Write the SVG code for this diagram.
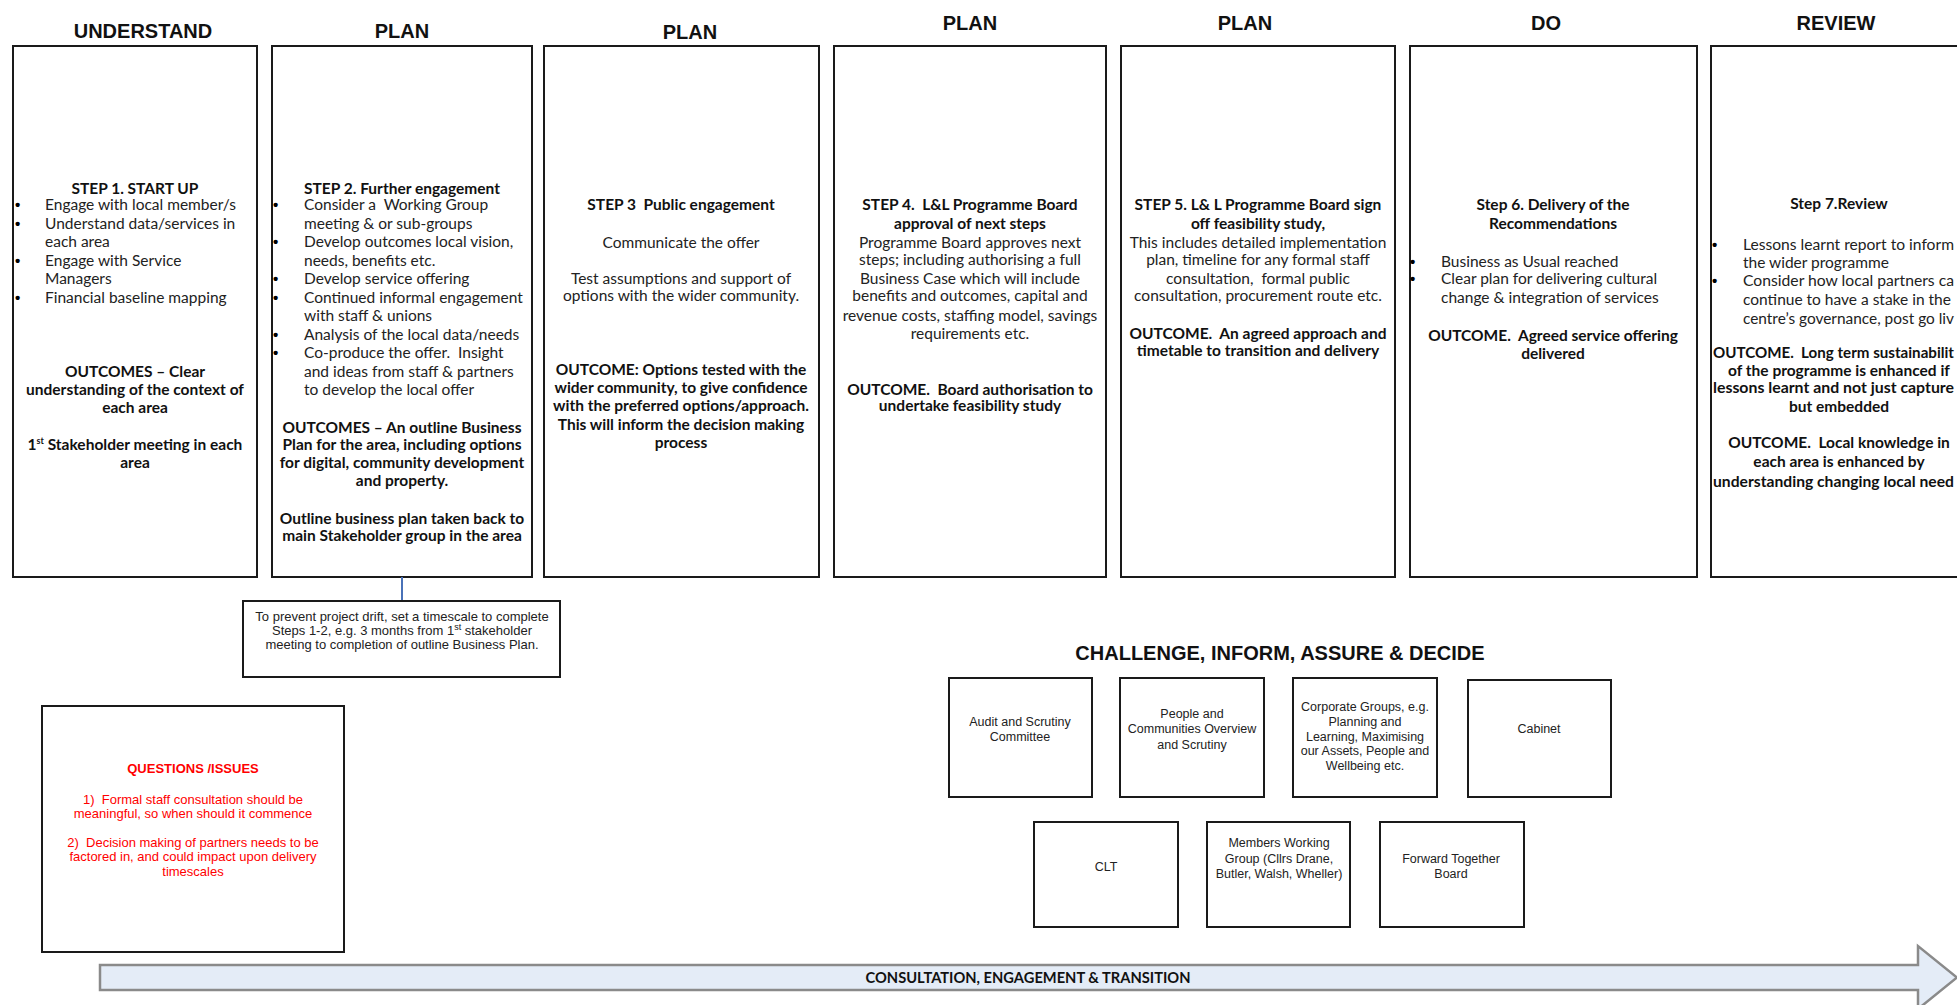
<svg xmlns="http://www.w3.org/2000/svg" width="1957" height="1005" viewBox="0 0 1957 1005">
<style>
.hdr{font-family:"Liberation Sans",Arial,sans-serif;font-weight:bold;font-size:20px;fill:#111;text-anchor:middle}
.box{fill:#fff;stroke:#1a1a1a;stroke-width:2}
.t{font-family:Lato,"Liberation Sans",sans-serif;font-size:15.5px;fill:#222;white-space:pre}
.c{text-anchor:middle}
.bd{font-weight:bold;fill:#111}
.bul{font-family:"Liberation Sans",Arial,sans-serif;font-size:15px;font-weight:bold;fill:#000}
.sm{font-family:"Liberation Sans",Arial,sans-serif;font-size:12.5px;fill:#222;text-anchor:middle}
.note{font-family:"Liberation Sans",Arial,sans-serif;font-size:13px;fill:#222;text-anchor:middle}
.red{font-family:"Liberation Sans",Arial,sans-serif;font-size:13px;fill:#f00;text-anchor:middle;white-space:pre}
.sup{font-size:9px}
</style>

<g id="headers">
<text class="hdr" x="143" y="38">UNDERSTAND</text>
<text class="hdr" x="402" y="38">PLAN</text>
<text class="hdr" x="690" y="39">PLAN</text>
<text class="hdr" x="970" y="30">PLAN</text>
<text class="hdr" x="1245" y="30">PLAN</text>
<text class="hdr" x="1546" y="30">DO</text>
<text class="hdr" x="1836" y="30">REVIEW</text>
</g>

<g id="step1">
<rect class="box" x="13" y="46" width="244" height="531"/>
<text class="t c bd" x="135" y="194">STEP 1. START UP</text>
<text class="bul" x="15" y="210">•</text><text class="t" x="45" y="210">Engage with local member/s</text>
<text class="bul" x="15" y="228.5">•</text><text class="t" x="45" y="228.5">Understand data/services in</text>
<text class="t" x="45" y="247">each area</text>
<text class="bul" x="15" y="265.5">•</text><text class="t" x="45" y="265.5">Engage with Service</text>
<text class="t" x="45" y="284">Managers</text>
<text class="bul" x="15" y="302.5">•</text><text class="t" x="45" y="302.5">Financial baseline mapping</text>
<text class="t c bd" x="135" y="377">OUTCOMES – Clear</text>
<text class="t c bd" x="135" y="395">understanding of the context of</text>
<text class="t c bd" x="135" y="413">each area</text>
<text class="t c bd" x="135" y="450">1<tspan class="sup" dy="-6">st</tspan><tspan dy="6"> Stakeholder meeting in each</tspan></text>
<text class="t c bd" x="135" y="468">area</text>
</g>

<g id="step2">
<rect class="box" x="272" y="46" width="260" height="531"/>
<text class="t c bd" x="402" y="194">STEP 2. Further engagement</text>
<text class="bul" x="273" y="210">•</text><text class="t" x="304" y="210">Consider a  Working Group</text>
<text class="t" x="304" y="228.5">meeting &amp; or sub-groups</text>
<text class="bul" x="273" y="247">•</text><text class="t" x="304" y="247">Develop outcomes local vision,</text>
<text class="t" x="304" y="265.5">needs, benefits etc.</text>
<text class="bul" x="273" y="284">•</text><text class="t" x="304" y="284">Develop service offering</text>
<text class="bul" x="273" y="302.5">•</text><text class="t" x="304" y="302.5">Continued informal engagement</text>
<text class="t" x="304" y="321">with staff &amp; unions</text>
<text class="bul" x="273" y="339.5">•</text><text class="t" x="304" y="339.5">Analysis of the local data/needs</text>
<text class="bul" x="273" y="358">•</text><text class="t" x="304" y="358">Co-produce the offer.  Insight</text>
<text class="t" x="304" y="376.5">and ideas from staff &amp; partners</text>
<text class="t" x="304" y="395">to develop the local offer</text>
<text class="t c bd" x="402" y="433">OUTCOMES – An outline Business</text>
<text class="t c bd" x="402" y="450">Plan for the area, including options</text>
<text class="t c bd" x="402" y="468">for digital, community development</text>
<text class="t c bd" x="402" y="486">and property.</text>
<text class="t c bd" x="402" y="524">Outline business plan taken back to</text>
<text class="t c bd" x="402" y="541">main Stakeholder group in the area</text>
</g>

<g id="step3">
<rect class="box" x="544" y="46" width="275" height="531"/>
<text class="t c bd" x="681" y="210">STEP 3  Public engagement</text>
<text class="t c" x="681" y="248">Communicate the offer</text>
<text class="t c" x="681" y="284">Test assumptions and support of</text>
<text class="t c" x="681" y="301">options with the wider community.</text>
<text class="t c bd" x="681" y="375">OUTCOME: Options tested with the</text>
<text class="t c bd" x="681" y="393">wider community, to give confidence</text>
<text class="t c bd" x="681" y="411">with the preferred options/approach.</text>
<text class="t c bd" x="681" y="429.5">This will inform the decision making</text>
<text class="t c bd" x="681" y="448">process</text>
</g>

<g id="step4">
<rect class="box" x="834" y="46" width="272" height="531"/>
<text class="t c bd" x="970" y="210">STEP 4.  L&amp;L Programme Board</text>
<text class="t c bd" x="970" y="229">approval of next steps</text>
<text class="t c" x="970" y="248">Programme Board approves next</text>
<text class="t c" x="970" y="265">steps; including authorising a full</text>
<text class="t c" x="970" y="284">Business Case which will include</text>
<text class="t c" x="970" y="301">benefits and outcomes, capital and</text>
<text class="t c" x="970" y="321">revenue costs, staffing model, savings</text>
<text class="t c" x="970" y="339">requirements etc.</text>
<text class="t c bd" x="970" y="395">OUTCOME.  Board authorisation to</text>
<text class="t c bd" x="970" y="411">undertake feasibility study</text>
</g>

<g id="step5">
<rect class="box" x="1121" y="46" width="274" height="531"/>
<text class="t c bd" x="1258" y="210">STEP 5. L&amp; L Programme Board sign</text>
<text class="t c bd" x="1258" y="229">off feasibility study,</text>
<text class="t c" x="1258" y="248">This includes detailed implementation</text>
<text class="t c" x="1258" y="265">plan, timeline for any formal staff</text>
<text class="t c" x="1258" y="284">consultation,  formal public</text>
<text class="t c" x="1258" y="301">consultation, procurement route etc.</text>
<text class="t c bd" x="1258" y="339">OUTCOME.  An agreed approach and</text>
<text class="t c bd" x="1258" y="356">timetable to transition and delivery</text>
</g>

<g id="step6">
<rect class="box" x="1410" y="46" width="287" height="531"/>
<text class="t c bd" x="1553" y="210">Step 6. Delivery of the</text>
<text class="t c bd" x="1553" y="229">Recommendations</text>
<text class="bul" x="1410" y="267">•</text><text class="t" x="1441" y="267">Business as Usual reached</text>
<text class="bul" x="1410" y="284">•</text><text class="t" x="1441" y="284">Clear plan for delivering cultural</text>
<text class="t" x="1441" y="303">change &amp; integration of services</text>
<text class="t c bd" x="1553" y="341">OUTCOME.  Agreed service offering</text>
<text class="t c bd" x="1553" y="359">delivered</text>
</g>

<g id="step7">
<rect class="box" x="1711" y="46" width="262" height="531"/>
<text class="t c bd" x="1839" y="209">Step 7.Review</text>
<text class="bul" x="1712" y="250">•</text><text class="t" x="1743" y="250" textLength="211" lengthAdjust="spacingAndGlyphs">Lessons learnt report to inform</text>
<text class="t" x="1743" y="268">the wider programme</text>
<text class="bul" x="1712" y="286">•</text><text class="t" x="1743" y="286" textLength="211" lengthAdjust="spacingAndGlyphs">Consider how local partners ca</text>
<text class="t" x="1743" y="305">continue to have a stake in the</text>
<text class="t" x="1743" y="324" textLength="211" lengthAdjust="spacingAndGlyphs">centre’s governance, post go liv</text>
<text class="t bd" x="1713" y="358" textLength="241" lengthAdjust="spacingAndGlyphs">OUTCOME.  Long term sustainabilit</text>
<text class="t c bd" x="1839" y="376">of the programme is enhanced if</text>
<text class="t bd" x="1713" y="393" textLength="241" lengthAdjust="spacingAndGlyphs">lessons learnt and not just capture</text>
<text class="t c bd" x="1839" y="412">but embedded</text>
<text class="t c bd" x="1839" y="448">OUTCOME.  Local knowledge in</text>
<text class="t c bd" x="1839" y="467">each area is enhanced by</text>
<text class="t bd" x="1713" y="487" textLength="241" lengthAdjust="spacingAndGlyphs">understanding changing local need</text>
</g>

<g id="connectors">
<line x1="402" y1="577" x2="402" y2="601" stroke="#4a72b8" stroke-width="2"/>
</g>

<g id="timescale-note">
<rect class="box" x="243" y="601" width="317" height="76"/>
<text class="note" x="402" y="621">To prevent project drift, set a timescale to complete</text>
<text class="note" x="402" y="635">Steps 1-2, e.g. 3 months from 1<tspan class="sup" dy="-5">st</tspan><tspan dy="5"> stakeholder</tspan></text>
<text class="note" x="402" y="649">meeting to completion of outline Business Plan.</text>
</g>

<g id="questions">
<rect class="box" x="42" y="706" width="302" height="246"/>
<text class="red" x="193" y="773" font-weight="bold">QUESTIONS /ISSUES</text>
<text class="red" x="193" y="804">1)  Formal staff consultation should be</text>
<text class="red" x="193" y="818">meaningful, so when should it commence</text>
<text class="red" x="193" y="847">2)  Decision making of partners needs to be</text>
<text class="red" x="193" y="861">factored in, and could impact upon delivery</text>
<text class="red" x="193" y="876">timescales</text>
</g>

<g id="challenge-title">
<text class="hdr" x="1280" y="660">CHALLENGE, INFORM, ASSURE &amp; DECIDE</text>
</g>

<g id="audit">
<rect class="box" x="949" y="678" width="143" height="119"/>
<text class="sm" x="1020" y="726">Audit and Scrutiny</text>
<text class="sm" x="1020" y="741">Committee</text>
</g>
<g id="people">
<rect class="box" x="1120" y="678" width="144" height="119"/>
<text class="sm" x="1192" y="718">People and</text>
<text class="sm" x="1192" y="733">Communities Overview</text>
<text class="sm" x="1192" y="749">and Scrutiny</text>
</g>
<g id="corporate">
<rect class="box" x="1293" y="678" width="144" height="119"/>
<text class="sm" x="1365" y="711">Corporate Groups, e.g.</text>
<text class="sm" x="1365" y="726">Planning and</text>
<text class="sm" x="1365" y="741">Learning, Maximising</text>
<text class="sm" x="1365" y="755">our Assets, People and</text>
<text class="sm" x="1365" y="770">Wellbeing etc.</text>
</g>
<g id="cabinet">
<rect class="box" x="1468" y="680" width="143" height="117"/>
<text class="sm" x="1539" y="733">Cabinet</text>
</g>
<g id="clt">
<rect class="box" x="1034" y="822" width="144" height="105"/>
<text class="sm" x="1106" y="871">CLT</text>
</g>
<g id="members">
<rect class="box" x="1207" y="822" width="143" height="105"/>
<text class="sm" x="1279" y="847">Members Working</text>
<text class="sm" x="1279" y="863">Group (Cllrs Drane,</text>
<text class="sm" x="1279" y="878">Butler, Walsh, Wheller)</text>
</g>
<g id="forward">
<rect class="box" x="1380" y="822" width="144" height="105"/>
<text class="sm" x="1451" y="863">Forward Together</text>
<text class="sm" x="1451" y="878">Board</text>
</g>

<g id="timeline-arrow">
<path d="M100,965 H1918 V946 L1957,977.5 L1918,1009 V990 H100 Z" fill="#e4ecf7" stroke="#8a8a8a" stroke-width="2.5"/>
<text x="1028" y="983" font-family="Lato,'Liberation Sans',sans-serif" font-weight="bold" font-size="14.5px" fill="#111" text-anchor="middle" textLength="325" lengthAdjust="spacingAndGlyphs">CONSULTATION, ENGAGEMENT &amp; TRANSITION</text>
</g>
</svg>
